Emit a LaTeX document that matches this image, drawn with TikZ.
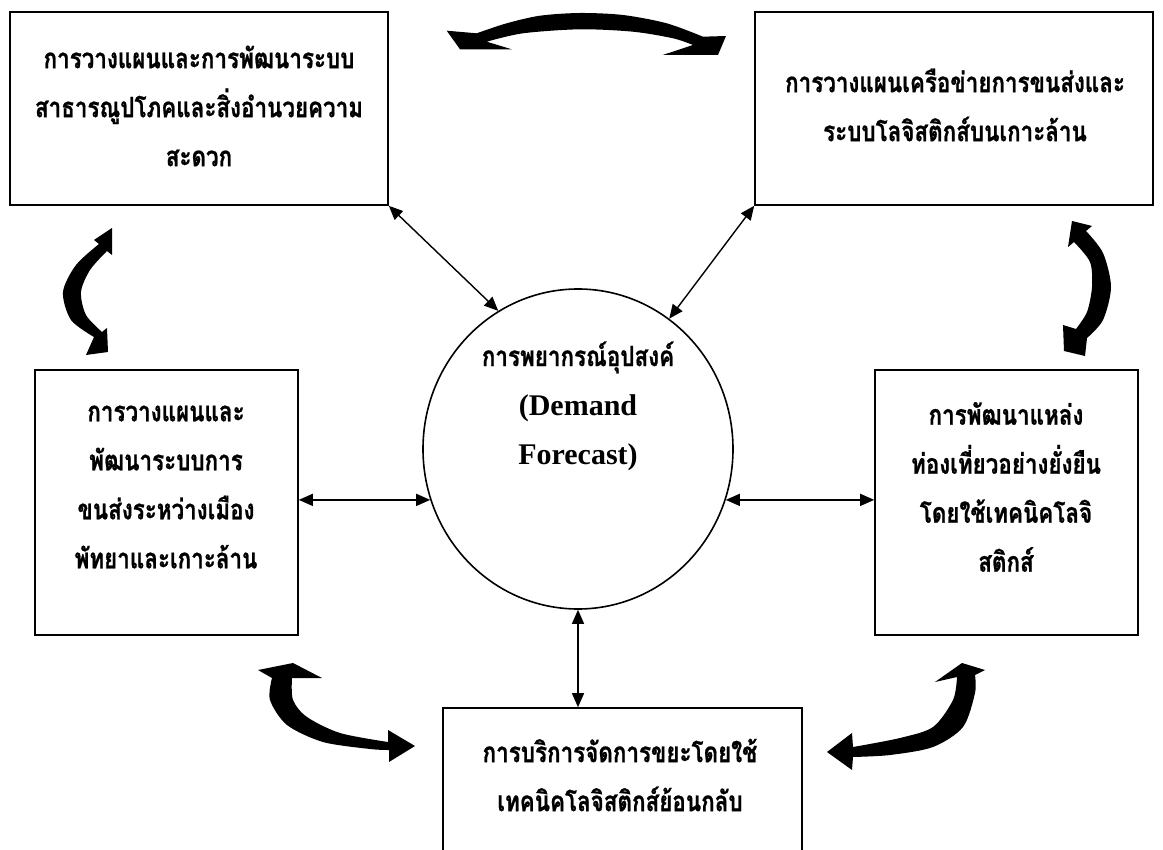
\documentclass[tikz,border=0pt]{standalone}
\usepackage{fontspec}
\usetikzlibrary{shapes.geometric,arrows.meta}
\newfontfamily\thaifont[Script=Thai,FakeStretch=0.8,BoldFeatures={FakeBold=0.8}]{Loma}
\newfontfamily\romanfont{Liberation Serif}
\begin{document}
\begin{tikzpicture}[x=1pt,y=-1pt,
  box/.style={draw, line width=1.6pt, rectangle, inner sep=0pt},
  lbl/.style={font=\thaifont\bfseries\fontsize{28}{49}\selectfont, align=center, inner sep=0pt},
  link/.style={line width=1.4pt, {Triangle[length=14pt,width=12pt]}-{Triangle[length=14pt,width=12pt]}},
  bigarrow/.style={fill=black}]
\useasboundingbox (0,0) rectangle (1163,850);

% boxes
\node[box, minimum width=378pt, minimum height=193pt] (b1) at (199,108.5) {};
\node[box, minimum width=398pt, minimum height=193pt] (b2) at (954,108.5) {};
\node[box, minimum width=263pt, minimum height=265pt] (b3) at (166.5,502.5) {};
\node[box, minimum width=263pt, minimum height=265pt] (b4) at (1006.5,502.5) {};
\node[box, minimum width=359pt, minimum height=172pt] (b5) at (622.5,794) {};
\node[draw, line width=1.6pt, ellipse, inner sep=0pt, minimum width=310pt, minimum height=320pt] (ell) at (578,449) {};

% labels
\node[lbl] (t1) at (199,106) {การวางแผนและการพัฒนาระบบ\\สาธารณูปโภคและสิ่งอำนวยความ\\สะดวก};
\node[lbl] (t2) at (955,105) {การวางแผนเครือข่ายการขนส่งและ\\ระบบโลจิสติกส์บนเกาะล้าน};
\node[lbl] (t3) at (166,487) {การวางแผนและ\\พัฒนาระบบการ\\ขนส่งระหว่างเมือง\\พัทยาและเกาะล้าน};
\node[lbl] (t4) at (1006,487) {การพัฒนาแหล่ง\\ท่องเที่ยวอย่างยั่งยืน\\โดยใช้เทคนิคโลจิ\\สติกส์};
\node[lbl] (t5) at (620,775) {การบริการจัดการขยะโดยใช้\\เทคนิคโลจิสติกส์ย้อนกลับ};
\node[lbl] (t0) at (578,406) {การพยากรณ์อุปสงค์\\{\romanfont\bfseries\fontsize{30}{48}\selectfont (Demand}\\{\romanfont\bfseries\fontsize{30}{48}\selectfont Forecast)}};

% two-headed links to the centre
\draw[link] (b1.south east) -- (ell.120);
\draw[link] (b2.south west) -- (ell.55);
\draw[link] (b3.east |- ell.199) -- (ell.199);
\draw[link] (ell.-19) -- (ell.-19 -| b4.west);
\draw[link] (ell.south) -- (ell.south |- b5.north);

% curved block arrows between neighbouring boxes
% top
\fill[bigarrow] (446.7,30.7) -- (460,49.3) -- (511.7,49.3) -- (486.7,41.7)
  -- plot[smooth] coordinates {(486.7,41.7) (523,33.3) (580,29.3) (633,31.7) (673,38.3) (693,45)}
  -- (662.7,55) -- (718,55) -- (726,36) -- (703,36.7)
  -- plot[smooth] coordinates {(703,36.7) (666.7,23.3) (623,15) (580,13) (540,15.7) (506.7,23.3) (476.7,33.3)}
  -- cycle;
% left
\fill[bigarrow] (112,228) -- (112,255) -- (107,251)
  -- plot[smooth] coordinates {(107,251) (90,270) (81,292) (86,315) (102,332)}
  -- (107,328) -- (108,352) -- (86,355) -- (94,337)
  -- plot[smooth] coordinates {(94,337) (71,320) (63,292) (76,265) (99,244)}
  -- (94,240) -- cycle;
% right
\fill[bigarrow] (1072,221) -- (1092,226) -- (1086,231)
  -- plot[smooth] coordinates {(1086,231) (1103,253) (1111,287) (1103,320) (1087,338)}
  -- (1085,356) -- (1064,351) -- (1063,325) -- (1076,329)
  -- plot[smooth] coordinates {(1076,329) (1087,312) (1092,287) (1090,262) (1074,242)}
  -- (1068,247) -- cycle;
% bottom left
\fill[bigarrow] (258,670) -- (293,663) -- (322,678) -- (292,678)
  -- plot[smooth] coordinates {(292,678) (293,700) (307,717) (340,733) (388,742)}
  -- (388,730) -- (415,746) -- (389,762) -- (389,750)
  -- plot[smooth] coordinates {(389,750) (370,749) (323,742) (287,725) (270,700) (272,678)}
  -- cycle;
% bottom right
\fill[bigarrow] (935,682) -- (962,663) -- (985,670) -- (975,675)
  -- plot[smooth] coordinates {(975,675) (975,693) (963,727) (933,747) (890,755) (853,757)}
  -- (852,770) -- (827,752) -- (852,733) -- (853,747)
  -- plot[smooth] coordinates {(853,747) (900,738) (933,727) (953,700) (957,677)}
  -- cycle;
\end{tikzpicture}
\end{document}
